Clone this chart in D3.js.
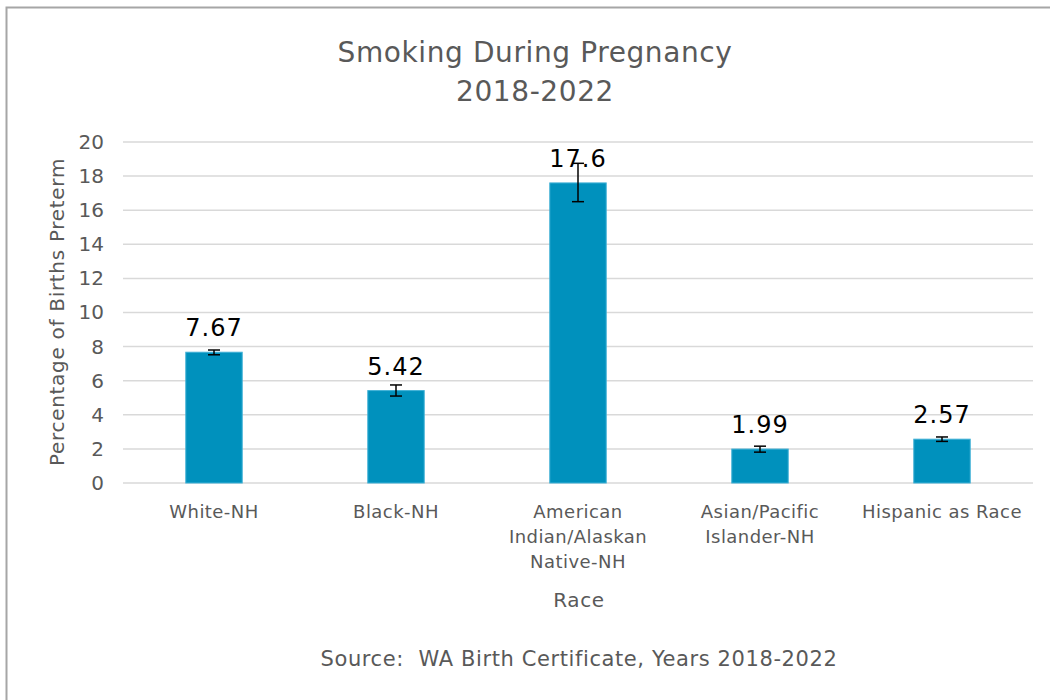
<!DOCTYPE html>
<html>
<head>
<meta charset="utf-8">
<script src="https://cdn.jsdelivr.net/npm/d3@7"></script>
<style>
  body { margin: 0; background: #fff; }
  text { font-family: "DejaVu Sans", sans-serif; white-space: pre; }
</style>
</head>
<body>
<div id="chart"></div>
<script>
// data
let categories = ["White-NH", "Black-NH", "American Indian/Alaskan Native-NH", "Asian/Pacific Islander-NH", "Hispanic as Race"]
let categoryLines = [["White-NH"], ["Black-NH"], ["American", "Indian/Alaskan", "Native-NH"], ["Asian/Pacific", "Islander-NH"], ["Hispanic as Race"]]
let values = [7.67, 5.42, 17.6, 1.99, 2.57]
let labels = ["7.67", "5.42", "17.6", "1.99", "2.57"]
let errLow = [7.52, 5.10, 16.5, 1.81, 2.44]
let errHigh = [7.80, 5.75, 18.75, 2.16, 2.70]
let yTicks = [0, 2, 4, 6, 8, 10, 12, 14, 16, 18, 20]

let W = 1050, H = 700
let svg = d3.select("#chart").append("svg")
  .attr("width", W)
  .attr("height", H)

// outer border
svg.append("rect")
  .attr("x", 6.5).attr("y", 7.5)
  .attr("width", W).attr("height", H)
  .attr("fill", "none")
  .attr("stroke", "#a6a6a6")
  .attr("stroke-width", 2)

let x = d3.scaleBand().domain(categories).range([123, 1033]).paddingInner(0.69).paddingOuter(0.345)
let y = d3.scaleLinear().domain([0, 20]).range([483, 142])

// gridlines
svg.append("g")
  .selectAll("line")
  .data(yTicks)
  .enter()
  .append("line")
  .attr("x1", 123).attr("x2", 1033)
  .attr("y1", d => y(d)).attr("y2", d => y(d))
  .attr("stroke", "#d9d9d9")
  .attr("stroke-width", 1.5)

// y axis labels
let yAxis = svg.append("g")
  .attr("transform", "translate(123,0)")
  .call(d3.axisLeft(y).tickValues(yTicks).tickSize(0).tickPadding(19))
yAxis.select(".domain").remove()
yAxis.selectAll("text")
  .attr("font-size", 20)
  .attr("fill", "#595959")
  .style("font-family", "'DejaVu Sans', sans-serif")

// bars
svg.selectAll("rect.bar")
  .data(values)
  .enter()
  .append("rect")
  .attr("class", "bar")
  .attr("x", (d, i) => x(categories[i]))
  .attr("y", d => y(d))
  .attr("width", x.bandwidth())
  .attr("height", d => y(0) - y(d))
  .attr("fill", "#0091bd")
  .attr("stroke", "#3fb0d6")
  .attr("stroke-width", 1)

// error bars
let eb = svg.append("g")
categories.forEach((c, i) => {
  let cx = x(c) + x.bandwidth() / 2
  eb.append("line")
    .attr("x1", cx).attr("x2", cx)
    .attr("y1", y(errLow[i])).attr("y2", y(errHigh[i]))
    .attr("stroke", "#000").attr("stroke-width", 1.5)
  ;[errLow[i], errHigh[i]].forEach(v => {
    eb.append("line")
      .attr("x1", cx - 6).attr("x2", cx + 6)
      .attr("y1", y(v)).attr("y2", y(v))
      .attr("stroke", "#000").attr("stroke-width", 1.5)
  })
})

// data labels
svg.selectAll("text.val")
  .data(values)
  .enter()
  .append("text")
  .attr("class", "val")
  .attr("x", (d, i) => x(categories[i]) + x.bandwidth() / 2)
  .attr("y", d => y(d) - 16)
  .attr("text-anchor", "middle")
  .attr("font-size", 24)
  .attr("letter-spacing", 1)
  .attr("fill", "#000")
  .text((d, i) => labels[i])

// category labels
categoryLines.forEach((lines, i) => {
  let t = svg.append("text")
    .attr("x", x(categories[i]) + x.bandwidth() / 2)
    .attr("y", 518)
    .attr("text-anchor", "middle")
    .attr("font-size", 18)
    .attr("letter-spacing", 0.45)
    .attr("fill", "#595959")
  lines.forEach((l, j) => {
    t.append("tspan")
      .attr("x", x(categories[i]) + x.bandwidth() / 2)
      .attr("dy", j == 0 ? 0 : 25)
      .text(l)
  })
})

// title
svg.append("text")
  .attr("x", 535).attr("y", 62)
  .attr("text-anchor", "middle")
  .attr("font-size", 28)
  .attr("letter-spacing", 0.6)
  .attr("fill", "#595959")
  .text("Smoking During Pregnancy")
svg.append("text")
  .attr("x", 535).attr("y", 101)
  .attr("text-anchor", "middle")
  .attr("font-size", 28)
  .attr("letter-spacing", 0.6)
  .attr("fill", "#595959")
  .text("2018-2022")

// axis titles
svg.append("text")
  .attr("transform", "translate(64,312) rotate(-90)")
  .attr("text-anchor", "middle")
  .attr("font-size", 20)
  .attr("letter-spacing", 0.7)
  .attr("fill", "#595959")
  .text("Percentage of Births Preterm")

svg.append("text")
  .attr("x", 579).attr("y", 607)
  .attr("text-anchor", "middle")
  .attr("font-size", 20)
  .attr("letter-spacing", 0.6)
  .attr("fill", "#595959")
  .text("Race")

// source note
svg.append("text")
  .attr("x", 579).attr("y", 666)
  .attr("text-anchor", "middle")
  .attr("font-size", 21)
  .attr("letter-spacing", 0.6)
  .attr("fill", "#595959")
  .text("Source:  WA Birth Certificate, Years 2018-2022")
</script>
</body>
</html>
